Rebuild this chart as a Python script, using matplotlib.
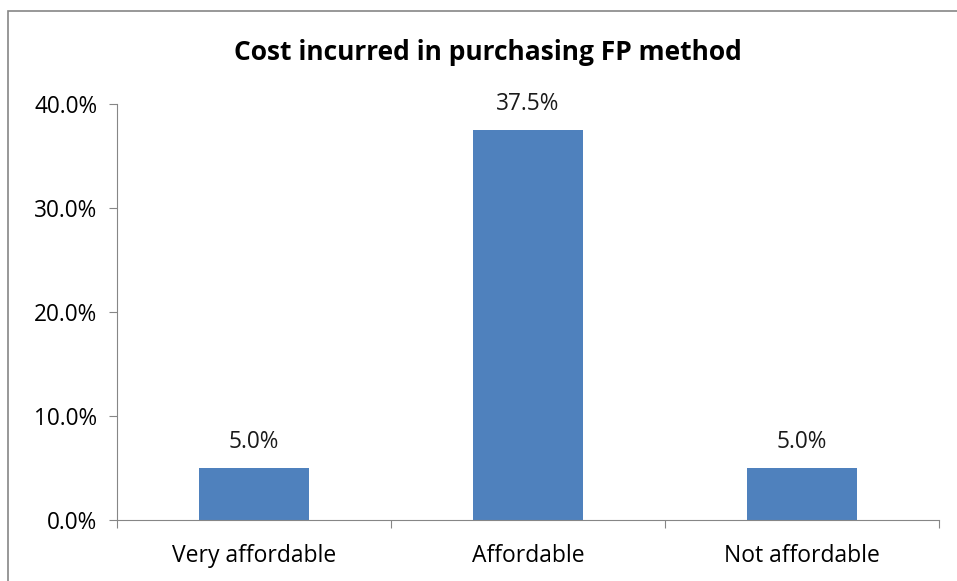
import matplotlib.pyplot as plt
from matplotlib.patches import Rectangle
from matplotlib.ticker import FuncFormatter

categories = ["Very affordable", "Affordable", "Not affordable"]
values = [0.05, 0.375, 0.05]
yticks = [0.0, 0.1, 0.2, 0.3, 0.4]

plt.rcParams['font.family'] = ['Open Sans', 'DejaVu Sans']

fig = plt.figure(figsize=(9.57, 5.81), dpi=100)
ax = fig.add_axes([117 / 957, 61 / 581, 822 / 957, 416 / 581])

x = list(range(len(categories)))
ax.bar(x, values, width=0.4, color="#4F81BD", zorder=2)

for xi, v in zip(x, values):
    ax.annotate(f"{v:.1%}", (xi, v), xytext=(0, 10), textcoords="offset points",
                ha="center", va="bottom", fontsize=16.3, color="#1a1a1a")

ax.set_xlim(-0.5, 2.5)
ax.set_ylim(0, 0.4)
ax.set_yticks(yticks)
ax.yaxis.set_major_formatter(FuncFormatter(lambda v, p: f"{v:.1%}"))

# category boundaries as ticks, labels centred under bars
ax.set_xticks([-0.5, 0.5, 1.5, 2.5])
ax.set_xticklabels([])
ax.set_xticks(x, minor=True)
ax.set_xticklabels(categories, minor=True)
ax.tick_params(axis="x", which="minor", length=0, pad=17, labelsize=16.5)
ax.tick_params(axis="x", which="major", length=6, color="#868686")
ax.tick_params(axis="y", length=6, color="#868686", labelsize=16.3, pad=8)

for s in ["top", "right"]:
    ax.spines[s].set_visible(False)
for s in ["left", "bottom"]:
    ax.spines[s].set_color("#868686")

fig.text(488 / 957, 1 - 52 / 581, "Cost incurred in purchasing FP method",
         ha="center", va="center", fontsize=19, fontweight="bold")

fig.add_artist(Rectangle((8 / 957, -0.1), 1.0, (570 / 581) + 0.1,
                         transform=fig.transFigure, fill=False,
                         edgecolor="#868686", linewidth=1.2, clip_on=False))

fig.savefig("out.png", dpi=100)
